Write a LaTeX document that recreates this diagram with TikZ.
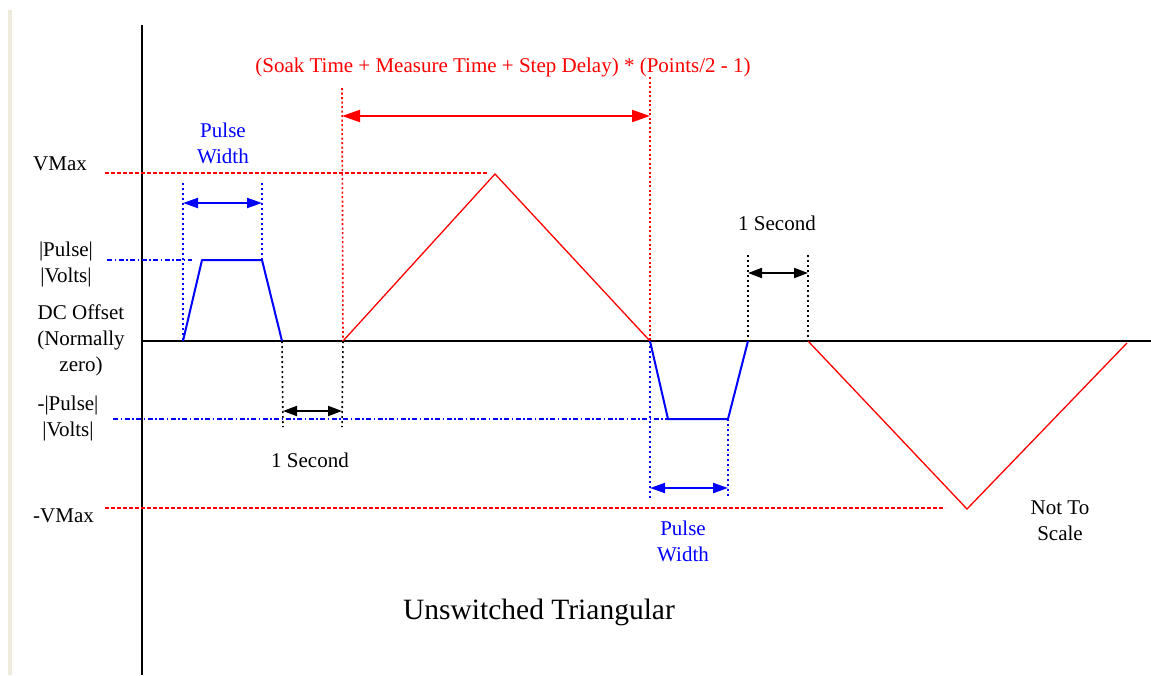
\documentclass[tikz,border=0pt]{standalone}
\usepackage{fontspec}
\setmainfont{Liberation Serif}
\usetikzlibrary{arrows.meta}
\definecolor{beige}{RGB}{238,234,220}
\begin{document}
\begin{tikzpicture}[x=1pt,y=-1pt,
  lbl/.style={font=\fontsize{21}{26}\selectfont, align=center, inner sep=0pt},
  ttl/.style={font=\fontsize{29.5}{34}\selectfont, inner sep=0pt},
  axis/.style={black, line width=1.8pt},
  wave/.style={red, line width=1.3pt, line join=miter},
  pulse/.style={blue, line width=2pt},
  rdot/.style={red, line width=1.6pt, dash pattern=on 2pt off 2.5pt},
  rdash/.style={red, line width=1.5pt, dash pattern=on 3.5pt off 2.5pt},
  bdot/.style={blue, line width=1.6pt, dash pattern=on 2pt off 3pt},
  bdashdot/.style={blue, line width=1.5pt, dash pattern=on 5pt off 2.5pt on 1.5pt off 2.5pt},
  kdot/.style={black, line width=1.6pt, dash pattern=on 2pt off 3pt},
  dimr/.style={red, line width=2pt, {Triangle[length=18pt,width=12pt]}-{Triangle[length=18pt,width=12pt]}},
  dimb/.style={blue, line width=2pt, {Triangle[length=15pt,width=10pt]}-{Triangle[length=15pt,width=10pt]}},
  dimk/.style={black, line width=2pt, {Triangle[length=14pt,width=10pt]}-{Triangle[length=14pt,width=10pt]}}
]
\useasboundingbox (0,0) rectangle (1151,675);
\fill[white] (0,0) rectangle (1151,675);
% left page edge
\fill[beige] (8,10) rectangle (12,675);

% axes
\coordinate (axtop) at (142,25);
\coordinate (axbot) at (142,675);
\coordinate (zl) at (142,341);
\coordinate (zr) at (1151,341);
\draw[axis] (axtop) -- (axbot);
\draw[axis] (zl) -- (zr);

% level guide lines
\coordinate (vmaxL) at (105,173);
\coordinate (vmaxR) at (488,173);
\coordinate (nvmaxL) at (105,508);
\coordinate (nvmaxR) at (945,508);
\coordinate (ppL) at (107,260);
\coordinate (ppR) at (192,260);
\coordinate (npL) at (113,419);
\coordinate (npR) at (668,419);
\draw[rdash] (vmaxL) -- (vmaxR);
\draw[rdash] (nvmaxL) -- (nvmaxR);
\draw[bdashdot] (ppL) -- (ppR);
\draw[bdashdot] (npL) -- (npR);

% first pulse
\coordinate (p1a) at (183,341);
\coordinate (p1b) at (202,260);
\coordinate (p1c) at (262,260);
\coordinate (p1d) at (282,341);
\draw[pulse, line join=round] (p1a) -- (p1b) -- (p1c) -- (p1d);

% triangle wave
\coordinate (t0) at (343,341);
\coordinate (t1) at (495,174);
\coordinate (t2) at (650,341);
\coordinate (t3) at (808,341);
\coordinate (t4) at (967,509);
\coordinate (t5) at (1127,343);
\draw[wave] (t0) -- (t1) -- (t2);
\draw[wave] (t3) -- (t4) -- (t5);

% second pulse
\coordinate (p2b) at (668,419);
\coordinate (p2c) at (728,419);
\coordinate (p2d) at (748,341);
\draw[pulse, line join=round] (t2) -- (p2b) -- (p2c) -- (p2d);

% pulse width 1
\coordinate (pw1lt) at (183,183);
\coordinate (pw1rt) at (262,183);
\draw[bdot] (pw1lt) -- (p1a);
\draw[bdot] (pw1rt) -- (p1c);
\coordinate (pw1l) at (183,203);
\coordinate (pw1r) at (262,203);
\draw[dimb] (pw1l) -- (pw1r);
\node[lbl, blue] (pwlab1) at (223,143) {Pulse\\Width};

% 1 second (first)
\coordinate (s1lb) at (283,427);
\coordinate (s1rb) at (342,427);
\draw[kdot] (p1d) -- (s1lb);
\draw[kdot] (t0) -- (s1rb);
\coordinate (s1l) at (283,411);
\coordinate (s1r) at (342,411);
\draw[dimk] (s1l) -- (s1r);
\node[lbl] (sec1) at (310,460) {1 Second};

% big red dimension
\coordinate (rlt) at (342,88);
\coordinate (rrt) at (650,77);
\draw[rdot] (rlt) -- (t0);
\draw[rdot] (rrt) -- (t2);
\coordinate (rl) at (342,116);
\coordinate (rr) at (650,116);
\draw[dimr] (rl) -- (rr);
\node[lbl, red] (formula) at (503,67) {(Soak Time + Measure Time + Step Delay) * (Points/2 - 1)};

% pulse width 2
\coordinate (pw2lb) at (650,498);
\coordinate (pw2rb) at (728,498);
\draw[bdot] (t2) -- (pw2lb);
\draw[bdot] (p2c) -- (pw2rb);
\coordinate (pw2l) at (650,488);
\coordinate (pw2r) at (728,488);
\draw[dimb] (pw2l) -- (pw2r);
\node[lbl, blue] (pwlab2) at (683,541) {Pulse\\Width};

% 1 second (second)
\coordinate (s2lt) at (748,255);
\coordinate (s2rt) at (808,255);
\draw[kdot] (s2lt) -- (p2d);
\draw[kdot] (s2rt) -- (t3);
\coordinate (s2l) at (748,273);
\coordinate (s2r) at (808,273);
\draw[dimk] (s2l) -- (s2r);
\node[lbl] (sec2) at (777,223) {1 Second};

% left labels
\node[lbl, anchor=west] (vmax) at (33,164) {VMax};
\node[lbl] (pv) at (66,264) {|Pulse|\\|Volts|};
\node[lbl] (dc) at (81,340) {DC Offset\\(Normally\\zero)};
\node[lbl] (npv) at (68,418) {-|Pulse|\\|Volts|};
\node[lbl, anchor=west] (nvmax) at (33,516) {-VMax};

\node[lbl] (nts) at (1060,521) {Not To\\Scale};
\node[ttl] (title) at (539,612) {Unswitched Triangular};
\end{tikzpicture}
\end{document}
